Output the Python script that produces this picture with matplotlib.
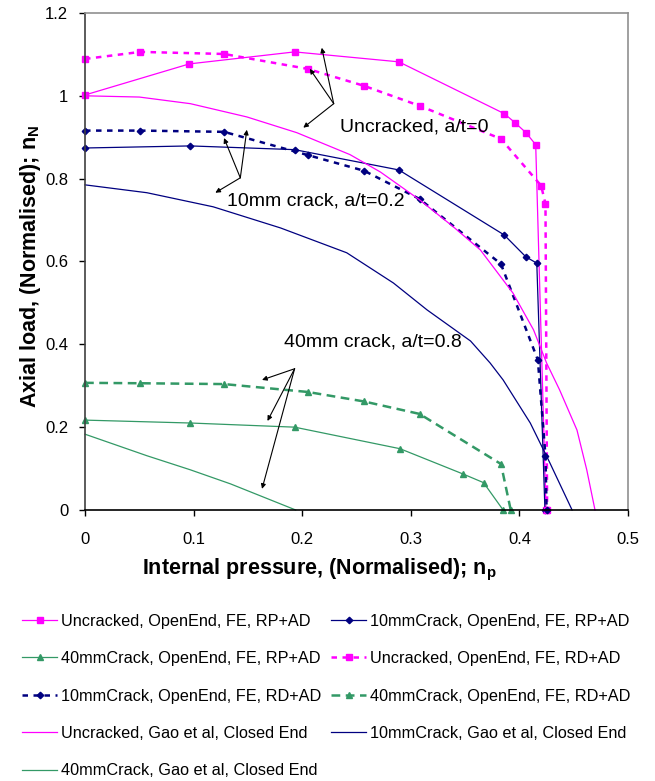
import matplotlib
matplotlib.use('Agg')
import matplotlib.pyplot as plt

plt.rcParams['font.family'] = ['Liberation Sans', 'DejaVu Sans']
plt.rcParams['mathtext.default'] = 'regular'

# FE results, open end (RP+AD = solid, RD+AD = dotted)
unc_rp_x = [0, 0.096, 0.193, 0.289, 0.386, 0.396, 0.406, 0.415, 0.4245]
unc_rp_y = [1.002, 1.077, 1.106, 1.082, 0.957, 0.935, 0.911, 0.882, 0.0]
ten_rp_x = [0, 0.097, 0.193, 0.289, 0.386, 0.406, 0.416, 0.4235]
ten_rp_y = [0.874, 0.879, 0.870, 0.821, 0.664, 0.611, 0.596, 0.0]
forty_rp_x = [0, 0.097, 0.193, 0.290, 0.348, 0.367, 0.385]
forty_rp_y = [0.217, 0.210, 0.200, 0.148, 0.087, 0.066, 0.0]

unc_rd_x = [0, 0.051, 0.128, 0.205, 0.257, 0.308, 0.383, 0.420, 0.424, 0.4255]
unc_rd_y = [1.089, 1.106, 1.101, 1.065, 1.024, 0.976, 0.896, 0.783, 0.739, 0.0]
ten_rd_x = [0, 0.051, 0.128, 0.205, 0.257, 0.308, 0.383, 0.417, 0.424, 0.425]
ten_rd_y = [0.916, 0.916, 0.913, 0.857, 0.819, 0.751, 0.594, 0.362, 0.130, 0.0]
forty_rd_x = [0, 0.051, 0.128, 0.205, 0.257, 0.308, 0.383, 0.392]
forty_rd_y = [0.307, 0.306, 0.304, 0.285, 0.262, 0.232, 0.111, 0.0]

# Gao et al, closed end
gao_unc_x = [0, 0.05, 0.097, 0.149, 0.195, 0.244, 0.272, 0.308, 0.339, 0.364,
             0.394, 0.413, 0.425, 0.437, 0.453, 0.462, 0.4696]
gao_unc_y = [1.0, 0.997, 0.981, 0.949, 0.911, 0.858, 0.816, 0.749, 0.684, 0.628,
             0.524, 0.435, 0.355, 0.29, 0.193, 0.097, 0.0]
gao_ten_x = [0, 0.057, 0.118, 0.180, 0.241, 0.284, 0.315, 0.355, 0.373, 0.385,
             0.410, 0.428, 0.4485]
gao_ten_y = [0.785, 0.766, 0.732, 0.681, 0.621, 0.548, 0.483, 0.408, 0.355, 0.314,
             0.210, 0.114, 0.0]
gao_forty_x = [0, 0.057, 0.097, 0.134, 0.194]
gao_forty_y = [0.183, 0.131, 0.097, 0.063, 0.0]

labels = ['Uncracked, OpenEnd, FE, RP+AD', '10mmCrack, OpenEnd, FE, RP+AD',
          '40mmCrack, OpenEnd, FE, RP+AD', 'Uncracked, OpenEnd, FE, RD+AD',
          '10mmCrack, OpenEnd, FE, RD+AD', '40mmCrack, OpenEnd, FE, RD+AD',
          'Uncracked, Gao et al, Closed End', '10mmCrack, Gao et al, Closed End',
          '40mmCrack, Gao et al, Closed End']

# annotation text and arrows (origin, targets)
notes = [
    ('Uncracked, a/t=0', (0.235, 0.925), (0.229, 0.981),
     [(0.218, 1.116), (0.207, 1.065), (0.201, 0.923)]),
    ('10mm crack, a/t=0.2', (0.131, 0.746), (0.143, 0.802),
     [(0.128, 0.898), (0.149, 0.918), (0.120, 0.766)]),
    ('40mm crack, a/t=0.8', (0.183, 0.406), (0.193, 0.341),
     [(0.163, 0.314), (0.168, 0.215), (0.163, 0.051)]),
]

xticks = [0, 0.1, 0.2, 0.3, 0.4, 0.5]
yticks = [0, 0.2, 0.4, 0.6, 0.8, 1.0, 1.2]

MAG = '#FF00FF'
NAVY = '#000080'
GREEN = '#339966'

fig = plt.figure(figsize=(6.55, 7.81), dpi=100)
ax = fig.add_axes([0.1298, 0.347, 0.829, 0.6364])

dot = (0, (2.2, 2.2))
dash = (0, (3.5, 2.2))
h = []
h += ax.plot(unc_rp_x, unc_rp_y, color=MAG, lw=0.9, marker='s', ms=4, clip_on=False)
h += ax.plot(ten_rp_x, ten_rp_y, color=NAVY, lw=0.9, marker='D', ms=3.3, clip_on=False)
h += ax.plot(forty_rp_x, forty_rp_y, color=GREEN, lw=0.9, marker='^', ms=4, clip_on=False)
h += ax.plot(unc_rd_x, unc_rd_y, color=MAG, lw=1.8, ls=dot, marker='s', ms=4, clip_on=False)
h += ax.plot(ten_rd_x, ten_rd_y, color=NAVY, lw=1.8, ls=dot, marker='D', ms=3.3, clip_on=False)
h += ax.plot(forty_rd_x, forty_rd_y, color=GREEN, lw=1.8, ls=dash, marker='^', ms=4, clip_on=False)
h += ax.plot(gao_unc_x, gao_unc_y, color=MAG, lw=0.9, clip_on=False)
h += ax.plot(gao_ten_x, gao_ten_y, color=NAVY, lw=0.9, clip_on=False)
h += ax.plot(gao_forty_x, gao_forty_y, color=GREEN, lw=0.9, clip_on=False)

for txt, tpos, origin, targets in notes:
    ax.text(tpos[0], tpos[1], txt, fontsize=14, va='center', ha='left')
    for t in targets:
        ax.annotate('', xy=t, xytext=origin,
                    arrowprops=dict(arrowstyle='-|>', color='black', lw=0.8,
                                    mutation_scale=7, shrinkA=0, shrinkB=0))

ax.set_xlim(0, 0.5)
ax.set_ylim(0, 1.2)
ax.set_xticks(xticks)
ax.set_xticklabels([f'{v:g}' for v in xticks])
ax.set_yticks(yticks)
ax.set_yticklabels([f'{v:g}' for v in yticks])
ax.tick_params(direction='out', length=4, width=1, labelsize=12)
ax.tick_params(axis='x', pad=12)
ax.tick_params(axis='y', pad=8)

ax.spines['top'].set_color('#909090')
ax.spines['right'].set_color('#909090')
ax.spines['left'].set_color('#404040')
ax.spines['bottom'].set_color('black')
for s in ax.spines.values():
    s.set_linewidth(1.2)

ax.set_xlabel('Internal pressure, (Normalised); n$_{p}$', fontsize=15.5,
              fontweight='bold')
ax.xaxis.set_label_coords(0.431, -0.095)
ax.set_ylabel('Axial load, (Normalised); n$_{N}$', fontsize=15.5,
              fontweight='bold')
ax.yaxis.set_label_coords(-0.077, 0.49)

order = [0, 2, 4, 6, 8, 1, 3, 5, 7]
fig.legend([h[i] for i in order], [labels[i] for i in order], ncol=2,
           loc='upper left', bbox_to_anchor=(0.012, 0.233), frameon=False,
           fontsize=11.7, handlelength=2.1, handletextpad=0.3,
           columnspacing=0.6, labelspacing=1.38, numpoints=1)

fig.savefig('out.png', dpi=100)
